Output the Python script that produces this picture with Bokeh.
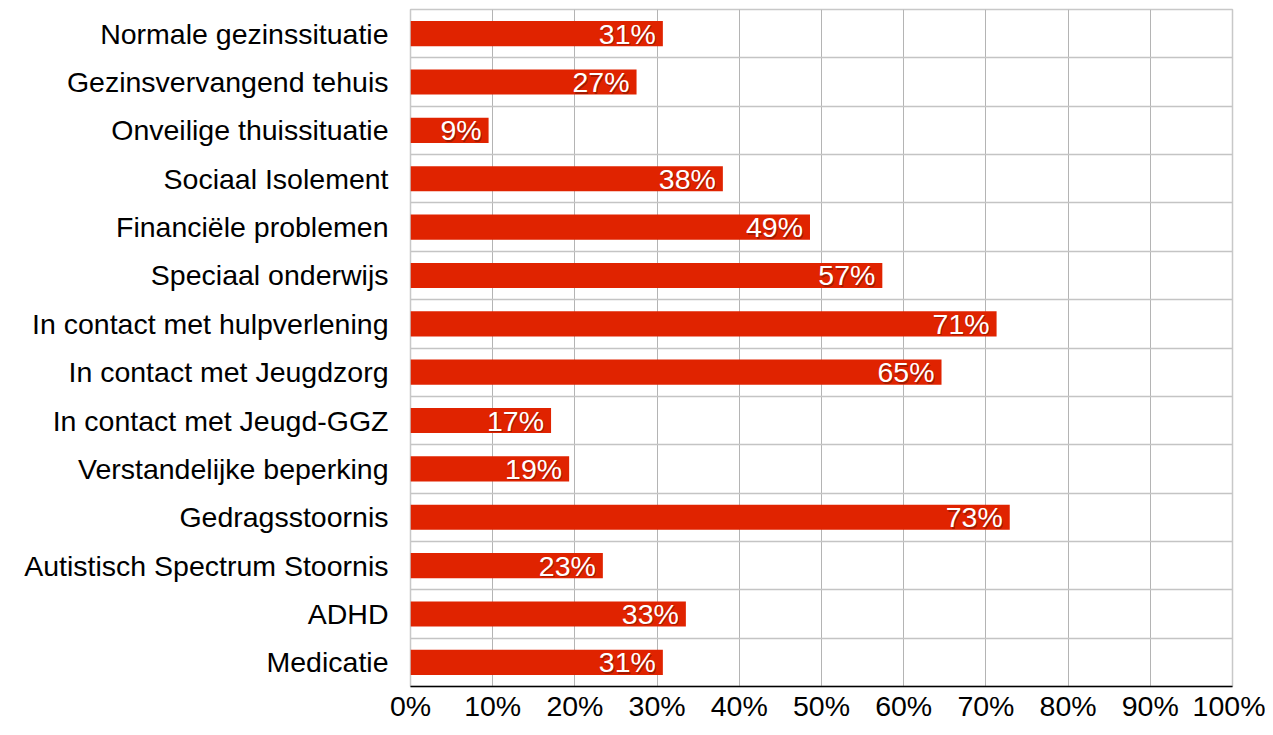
from bokeh.plotting import figure
from bokeh.models import ColumnDataSource, FixedTicker, PrintfTickFormatter
from bokeh.core.properties import value
from bokeh.embed import file_html
from bokeh.resources import INLINE

categories = [
    "Normale gezinssituatie",
    "Gezinsvervangend tehuis",
    "Onveilige thuissituatie",
    "Sociaal Isolement",
    "Financiële problemen",
    "Speciaal onderwijs",
    "In contact met hulpverlening",
    "In contact met Jeugdzorg",
    "In contact met Jeugd-GGZ",
    "Verstandelijke beperking",
    "Gedragsstoornis",
    "Autistisch Spectrum Stoornis",
    "ADHD",
    "Medicatie",
]
values = [30.7, 27.5, 9.5, 38.0, 48.6, 57.4, 71.3, 64.6, 17.1, 19.3, 72.9, 23.4, 33.5, 30.7]
value_labels = ["31%", "27%", "9%", "38%", "49%", "57%", "71%", "65%", "17%", "19%", "73%", "23%", "33%", "31%"]
x_ticks = [0, 10, 20, 30, 40, 50, 60, 70, 80, 90, 100]

n = len(categories)
ypos = [n - 1 - i for i in range(n)]
src = ColumnDataSource(dict(y=ypos, v=values, lab=value_labels, cat=categories))

FONT = "Liberation Sans"
FS = "28.5px"

p = figure(
    width=1265, height=719,
    frame_width=822, frame_height=677,
    min_border_left=410, min_border_right=33, min_border_top=9, min_border_bottom=33,
    x_range=(0, 100), y_range=(-0.5, n - 0.5),
    output_backend="svg", toolbar_location=None,
)
p.background_fill_color = "white"
p.border_fill_color = "white"
p.outline_line_color = "#c8c8c8"
p.outline_line_width = 1.5

# grids
p.xgrid.ticker = FixedTicker(ticks=x_ticks)
p.xgrid.grid_line_color = "#b4b4b4"
p.xgrid.grid_line_width = 1
p.ygrid.ticker = FixedTicker(ticks=[i + 0.5 for i in range(n - 1)])
p.ygrid.grid_line_color = "#c4c4c4"
p.ygrid.grid_line_width = 1.5

p.hbar(y="y", right="v", left=0, height=0.52, source=src,
       fill_color="#e02300", line_color=None)

# value labels with subtle shadow
p.text(x="v", y="y", text="lab", source=src, x_offset=-6, y_offset=1.5,
       text_align="right", text_baseline="middle", text_color="#5a1000", text_alpha=0.45,
       text_font=value(FONT), text_font_size=FS)
p.text(x="v", y="y", text="lab", source=src, x_offset=-7,
       text_align="right", text_baseline="middle", text_color="white",
       text_font=value(FONT), text_font_size=FS)

# x axis
p.xaxis.ticker = FixedTicker(ticks=x_ticks)
p.xaxis.formatter = PrintfTickFormatter(format="%d%%")
p.xaxis.major_label_text_font = FONT
p.xaxis.major_label_text_font_size = FS
p.xaxis.major_label_text_color = "black"
p.xaxis.axis_line_color = "black"
p.xaxis.axis_line_width = 1.5
p.xaxis.major_tick_line_color = None
p.xaxis.minor_tick_line_color = None
p.xaxis.major_tick_in = 0
p.xaxis.major_tick_out = 0
p.xaxis.major_label_standoff = 3

# y axis
p.yaxis.ticker = FixedTicker(ticks=ypos)
p.yaxis.major_label_overrides = {float(y): c for y, c in zip(ypos, categories)}
p.yaxis.major_label_text_font = FONT
p.yaxis.major_label_text_font_size = FS
p.yaxis.major_label_text_color = "black"
p.yaxis.axis_line_color = None
p.yaxis.major_tick_line_color = None
p.yaxis.minor_tick_line_color = None
p.yaxis.major_tick_in = 0
p.yaxis.major_tick_out = 0
p.yaxis.major_label_standoff = 22

open("out.html", "w").write(file_html(p, INLINE))
